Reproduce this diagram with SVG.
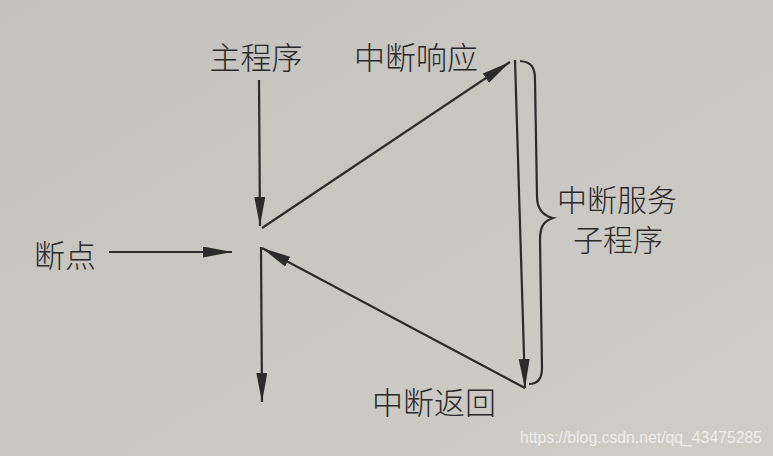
<svg xmlns="http://www.w3.org/2000/svg" width="773" height="456" viewBox="0 0 773 456">
<defs>
<linearGradient id="bg" x1="0" y1="0" x2="1" y2="1">
<stop offset="0" stop-color="#c4c2bd"/>
<stop offset="1" stop-color="#cfcdc8"/>
</linearGradient>
<marker id="ah" markerUnits="userSpaceOnUse" markerWidth="32" markerHeight="12" refX="29" refY="5.5" orient="auto">
<path d="M0,0 L29,5.5 L0,11 Z" fill="#2b2b2b"/>
</marker>
</defs>
<style>
.lbl{font-family:"Noto Sans CJK SC","Noto Sans",sans-serif;font-size:31px;fill:#2a2a2a;font-weight:300}
.svc{font-size:30px}
.ln{stroke:#2b2b2b;stroke-width:2.2;fill:none}
.wm{font-family:"Liberation Sans",Arial,sans-serif;font-size:16px;fill:#eeeeec}
</style>
<rect width="773" height="456" fill="url(#bg)"/>
<g id="connectors">
<line class="ln" x1="259" y1="80" x2="260" y2="226" marker-end="url(#ah)"/>
<line class="ln" x1="262" y1="228" x2="510" y2="62" marker-end="url(#ah)"/>
<line class="ln" x1="109" y1="252" x2="232" y2="252" marker-end="url(#ah)"/>
<line class="ln" x1="515" y1="60" x2="525" y2="388" marker-end="url(#ah)"/>
<line class="ln" x1="525" y1="388" x2="262" y2="248" marker-end="url(#ah)"/>
<line class="ln" x1="261" y1="247" x2="262" y2="402" marker-end="url(#ah)"/>
</g>
<g id="brace">
<path class="ln" d="M520,61 C532,62 535,68 535,80 L537,196 C537,210 544,216 553,218 C544,221 540,226 540,240 L542,368 C542,380 537,384 529,384"/>
</g>
<g id="node-main"><text class="lbl" x="256" y="69" text-anchor="middle">主程序</text></g>
<g id="node-response"><text class="lbl" x="416" y="69" text-anchor="middle">中断响应</text></g>
<g id="node-breakpoint"><text class="lbl" x="65" y="267" text-anchor="middle">断点</text></g>
<g id="node-service"><text class="lbl svc" x="617" y="211" text-anchor="middle">中断服务</text><text class="lbl svc" x="618" y="251" text-anchor="middle">子程序</text></g>
<g id="node-return"><text class="lbl" x="434" y="414" text-anchor="middle">中断返回</text></g>
<text class="wm" x="520" y="443" textLength="242" lengthAdjust="spacingAndGlyphs">https://blog.csdn.net/qq_43475285</text>
</svg>
